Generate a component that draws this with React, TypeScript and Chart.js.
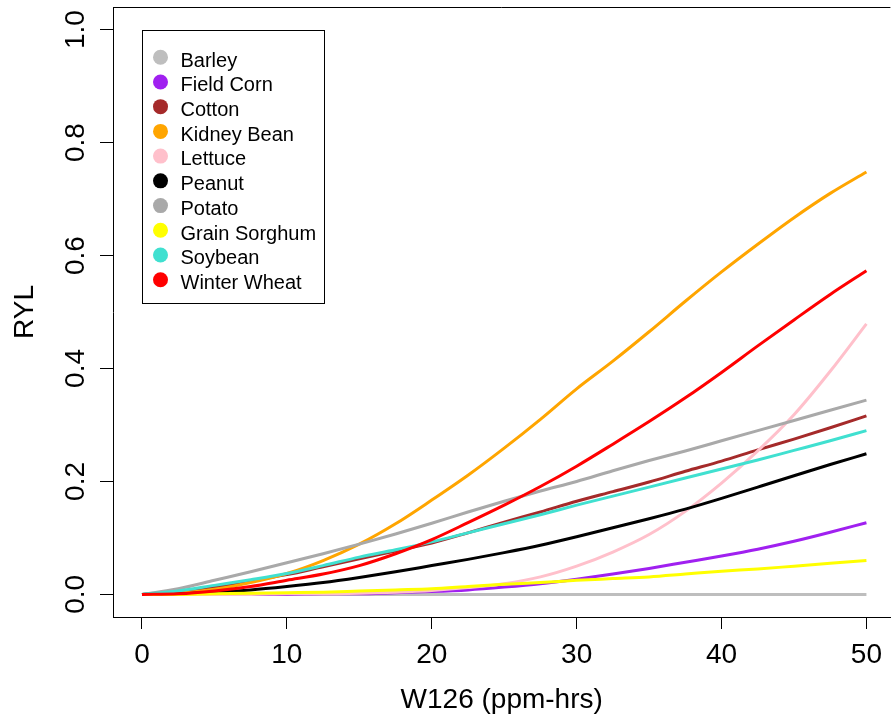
import React, { useEffect, useRef } from 'react';
import { Chart, registerables } from 'chart.js';

Chart.register(...registerables);

const FONT = '"Liberation Sans", Arial, Helvetica, sans-serif';

// W126 exposure values (ppm-hrs)
const w126 = [0, 2.5, 5, 7.5, 10, 12.5, 15, 17.5, 20, 22.5, 25, 27.5, 30, 32.5, 35, 37.5, 40, 42.5, 45, 47.5, 50];

// Relative yield loss per crop
const barley = [0, 0, 0, 0, 0, 0, 0, 0, 0, 0, 0, 0, 0, 0, 0, 0, 0, 0, 0, 0, 0];
const fieldCorn = [0, 0, 0, 0, 0, 0.001, 0.001, 0.003, 0.005, 0.008, 0.013, 0.019, 0.027, 0.036, 0.046, 0.057, 0.068, 0.08, 0.094, 0.11, 0.127];
const cotton = [0, 0.005, 0.013, 0.024, 0.035, 0.049, 0.063, 0.077, 0.091, 0.109, 0.128, 0.146, 0.165, 0.182, 0.199, 0.218, 0.236, 0.256, 0.275, 0.295, 0.316];
const kidneyBean = [0, 0.002, 0.009, 0.021, 0.037, 0.06, 0.089, 0.125, 0.167, 0.211, 0.259, 0.31, 0.364, 0.413, 0.465, 0.519, 0.571, 0.62, 0.667, 0.71, 0.748];
const lettuce = [0, 0, 0, 0, 0.001, 0.001, 0.002, 0.004, 0.007, 0.012, 0.019, 0.031, 0.05, 0.075, 0.106, 0.147, 0.197, 0.254, 0.318, 0.395, 0.479];
const peanut = [0, 0.001, 0.004, 0.008, 0.014, 0.021, 0.03, 0.04, 0.051, 0.062, 0.074, 0.087, 0.102, 0.118, 0.134, 0.151, 0.17, 0.19, 0.21, 0.23, 0.249];
const potato = [0, 0.01, 0.025, 0.04, 0.056, 0.072, 0.089, 0.107, 0.126, 0.146, 0.165, 0.183, 0.2, 0.219, 0.237, 0.254, 0.272, 0.29, 0.308, 0.326, 0.344];
const grainSorghum = [0, 0, 0.001, 0.002, 0.003, 0.004, 0.006, 0.008, 0.01, 0.014, 0.018, 0.021, 0.025, 0.028, 0.031, 0.036, 0.041, 0.045, 0.05, 0.055, 0.06];
const soybean = [0, 0.006, 0.016, 0.026, 0.037, 0.051, 0.066, 0.079, 0.093, 0.109, 0.125, 0.141, 0.158, 0.174, 0.19, 0.206, 0.222, 0.238, 0.255, 0.272, 0.29];
const winterWheat = [0, 0.001, 0.006, 0.014, 0.025, 0.036, 0.051, 0.072, 0.097, 0.127, 0.158, 0.191, 0.227, 0.266, 0.306, 0.348, 0.393, 0.44, 0.486, 0.531, 0.573];

const cropNames = ['Barley', 'Field Corn', 'Cotton', 'Kidney Bean', 'Lettuce', 'Peanut', 'Potato', 'Grain Sorghum', 'Soybean', 'Winter Wheat'];
const cropSeries = [barley, fieldCorn, cotton, kidneyBean, lettuce, peanut, potato, grainSorghum, soybean, winterWheat];
const cropColors = ['#BEBEBE', '#A020F0', '#A52A2A', '#FFA500', '#FFC0CB', '#000000', '#A9A9A9', '#FFFF00', '#40E0D0', '#FF0000'];

const xTickValues = [0, 10, 20, 30, 40, 50];
const yTickValues = [0, 0.2, 0.4, 0.6, 0.8, 1.0];
const yTickLabels = ['0.0', '0.2', '0.4', '0.6', '0.8', '1.0'];
const xAxisTitle = 'W126 (ppm-hrs)';
const yAxisTitle = 'RYL';

const boxPlugin = {
  id: 'rBoxLegend',
  afterDraw(chart: any) {
    const { ctx, chartArea, scales } = chart;
    ctx.save();
    // top border of plot box
    ctx.strokeStyle = '#000';
    ctx.lineWidth = 1;
    const ty = Math.round(chartArea.top) + 0.5;
    ctx.beginPath();
    ctx.moveTo(chartArea.left, ty);
    ctx.lineTo(chartArea.right, ty);
    ctx.stroke();

    // y tick labels (rotated, R style)
    ctx.font = `28px ${FONT}`;
    ctx.fillStyle = '#000';
    ctx.textAlign = 'center';
    ctx.textBaseline = 'alphabetic';
    const yScale = scales.y;
    yScale.ticks.forEach((t: any, i: number) => {
      const py = yScale.getPixelForValue(t.value);
      ctx.save();
      ctx.translate(yScale.right - 29, py);
      ctx.rotate(-Math.PI / 2);
      ctx.fillText(yTickLabels[i], 0, 0);
      ctx.restore();
    });

    // legend
    const lx = Math.round(scales.x.getPixelForValue(0)) + 0.5;
    const ly = Math.round(scales.y.getPixelForValue(1)) + 0.5;
    const lw = 182;
    const lh = 273;
    ctx.fillStyle = '#fff';
    ctx.fillRect(lx, ly, lw, lh);
    ctx.strokeStyle = '#000';
    ctx.lineWidth = 1;
    ctx.strokeRect(lx, ly, lw, lh);
    ctx.font = `20px ${FONT}`;
    ctx.textAlign = 'left';
    chart.data.datasets.forEach((ds: any, i: number) => {
      const cy = ly + 26.7 + 24.73 * i;
      ctx.fillStyle = ds.borderColor;
      ctx.beginPath();
      ctx.arc(lx + 18, cy, 7.5, 0, Math.PI * 2);
      ctx.fill();
      ctx.fillStyle = '#000';
      ctx.fillText(ds.label, lx + 38, cy + 9.3);
    });
    ctx.restore();
  },
};

export default function App() {
  const canvasRef = useRef<HTMLCanvasElement | null>(null);

  useEffect(() => {
    const canvas = canvasRef.current;
    if (!canvas) return;
    const datasets = cropNames.map((name, i) => ({
      label: name,
      data: w126.map((x, j) => ({ x, y: cropSeries[i][j] })),
      borderColor: cropColors[i],
      backgroundColor: cropColors[i],
      borderWidth: 3,
      pointRadius: 0,
      fill: false,
      cubicInterpolationMode: 'monotone' as const,
      order: cropNames.length - 1 - i,
    }));

    const chart = new Chart(canvas, {
      type: 'line',
      data: { datasets },
      options: {
        responsive: false,
        maintainAspectRatio: false,
        devicePixelRatio: 1,
        animation: false,
        events: [],
        layout: { padding: { top: 7, right: 0, bottom: 0, left: 0 } },
        plugins: {
          legend: { display: false },
          tooltip: { enabled: false },
        },
        scales: {
          x: {
            type: 'linear',
            min: -2,
            max: 51.655,
            afterBuildTicks: (s: any) => {
              s.ticks = xTickValues.map((v) => ({ value: v }));
            },
            afterFit: (s: any) => {
              s.height = 104;
            },
            grid: {
              display: true,
              drawOnChartArea: false,
              drawTicks: true,
              tickLength: 12,
              tickColor: '#000',
              tickWidth: 1,
            },
            border: { display: true, color: '#000', width: 1 },
            ticks: {
              color: '#000',
              font: { family: FONT, size: 28 },
              padding: 9,
              maxRotation: 0,
              minRotation: 0,
              autoSkip: false,
              callback: (v: any) => String(v),
            },
            title: {
              display: true,
              text: xAxisTitle,
              color: '#000',
              font: { family: FONT, size: 28 },
              padding: { top: 0, bottom: 4 },
            },
          },
          y: {
            type: 'linear',
            min: -0.04,
            max: 1.04,
            afterBuildTicks: (s: any) => {
              s.ticks = yTickValues.map((v) => ({ value: v }));
            },
            afterFit: (s: any) => {
              s.width = 113;
            },
            grid: {
              display: true,
              drawOnChartArea: false,
              drawTicks: true,
              tickLength: 13,
              tickColor: '#000',
              tickWidth: 1,
            },
            border: { display: true, color: '#000', width: 1 },
            ticks: {
              display: false,
              callback: (_v: any, i: number) => yTickLabels[i],
            },
            title: {
              display: true,
              text: yAxisTitle,
              color: '#000',
              font: { family: FONT, size: 28 },
              padding: { top: 8, bottom: 0 },
            },
          },
        },
      },
      plugins: [boxPlugin],
    });

    return () => chart.destroy();
  }, []);

  return (
    <div
      style={{
        position: 'fixed',
        left: 0,
        top: 0,
        width: 891,
        height: 721,
        overflow: 'hidden',
        background: '#fff',
      }}
    >
      <canvas ref={canvasRef} width={891} height={721} style={{ display: 'block' }} />
    </div>
  );
}
